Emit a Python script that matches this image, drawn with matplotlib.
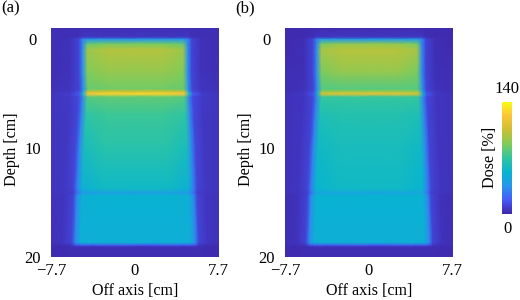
import numpy as np
import matplotlib
matplotlib.use('Agg')
import matplotlib.pyplot as plt
from matplotlib.colors import LinearSegmentedColormap

plt.rcParams['font.family'] = ['Liberation Serif', 'DejaVu Serif']

# dose table rows, depth in cm
depths = [-1.0, -0.15, 0.05, 0.5, 1.0, 3.0, 4.6, 4.8, 5.05, 5.35, 7.0, 10.0, 13.8, 14.1, 14.4, 18.7, 18.95, 19.1, 20.0]
# field edges at each depth, cm
left_edge = [-5.0, -5.0, -5.0, -5.0, -5.0, -5.0, -4.95, -4.95, -4.95, -5.0, -5.1, -5.3, -5.5, -5.5, -5.5, -5.65, -5.65, -5.65, -5.65]
right_edge = [5.1, 5.1, 5.1, 5.1, 5.1, 5.1, 5.15, 5.15, 5.2, 5.2, 5.3, 5.45, 5.6, 5.6, 5.6, 5.75, 5.75, 5.75, 5.75]
# dose columns: far, tail, outer, edge, inner, centre
dose_a = [
    [3, 3, 3, 3, 3, 3],
    [3, 3, 4, 6, 6, 6],
    [3, 4, 10, 30, 36, 36],
    [3, 4, 10, 30, 82, 86],
    [3, 4, 10, 32, 94, 99],
    [3, 4, 10, 32, 88, 92],
    [4, 5, 10, 32, 82, 84],
    [4, 6, 12, 38, 98, 102],
    [5, 8, 18, 60, 122, 127],
    [5, 7, 12, 30, 78, 80],
    [5, 6, 11, 30, 68, 72],
    [5, 6, 11, 30, 60, 66],
    [5, 6, 10, 28, 50, 56],
    [5, 6, 8, 22, 38, 40],
    [4, 5, 10, 32, 50, 51],
    [4, 5, 10, 32, 49, 49],
    [3, 3, 5, 14, 16, 16],
    [2, 2, 3, 3, 3, 3],
    [2, 2, 2, 2, 2, 2],
]
dose_b = [
    [2, 2, 2, 2, 2, 2],
    [2, 2, 3, 6, 6, 6],
    [2, 3, 10, 30, 38, 38],
    [2, 3, 10, 30, 86, 92],
    [2, 3, 10, 32, 96, 100],
    [3, 3, 10, 32, 86, 92],
    [3, 4, 10, 32, 78, 78],
    [3, 5, 11, 36, 88, 90],
    [4, 6, 16, 50, 110, 114],
    [4, 5, 11, 30, 70, 70],
    [4, 5, 10, 30, 62, 64],
    [4, 5, 10, 30, 56, 60],
    [4, 5, 10, 28, 52, 56],
    [4, 5, 8, 24, 44, 44],
    [3, 4, 10, 32, 51, 51],
    [3, 4, 10, 32, 49, 49],
    [3, 3, 5, 14, 16, 16],
    [2, 2, 3, 3, 3, 3],
    [2, 2, 2, 2, 2, 2],
]
panels = ['(a)', '(b)']
x_ticks = [-7.7, 0, 7.7]
x_tick_labels = ['\u22127.7', '0', '7.7']
y_ticks = [0, 10, 20]

parula = LinearSegmentedColormap.from_list('parula', [
    (0.2422, 0.1504, 0.6603), (0.2780, 0.3556, 0.9777), (0.1540, 0.5902, 0.9218),
    (0.0297, 0.7082, 0.8163), (0.1938, 0.7758, 0.6251), (0.5044, 0.7993, 0.3480),
    (0.8000, 0.7500, 0.2000), (0.9892, 0.7700, 0.2200), (0.9769, 0.9839, 0.0805)])


def draw_panel(ax, dose):
    dose = np.array(dose, dtype=float)
    d = np.array(depths)
    lft = np.array(left_edge)
    rgt = np.array(right_edge)
    far = np.full_like(d, 7.7)
    # columns run from the far side, over the left edge, to the right side
    x = np.column_stack([-far, lft - 1.0, lft - 0.15, lft + 0.2, lft + 0.65, lft + 2.5,
                         rgt - 2.5, rgt - 0.65, rgt - 0.2, rgt + 0.15, rgt + 1.0, far])
    y = np.tile(d[:, None], (1, 12))
    z = np.column_stack([dose[:, :6], dose[:, 5:0:-1], dose[:, 0]])
    im = ax.pcolormesh(x, y, z, shading='gouraud', cmap=parula, vmin=0, vmax=140)
    ax.set_xlim(-7.7, 7.7)
    ax.set_ylim(20, -1)
    ax.set_xticks(x_ticks, x_tick_labels)
    ax.set_yticks(y_ticks)
    ax.tick_params(axis='x', length=0, labelsize=12, pad=4)
    ax.tick_params(axis='y', length=0, labelsize=12, pad=13)
    for lab in ax.get_yticklabels():
        lab.set_ha('center')
    ax.set_xlabel('Off axis [cm]', fontsize=11.6, va='center')
    ax.xaxis.set_label_coords(0.5, -34 / 229)
    ax.set_ylabel('Depth [cm]', fontsize=11.6, va='center')
    ax.yaxis.set_label_coords(-39 / 167.5, 0.47)
    for s in ax.spines.values():
        s.set_visible(False)
    return im


fig = plt.figure(figsize=(5.2, 3), dpi=100)
W, H = 520, 300
ax_a = fig.add_axes([51 / W, 1 - 257 / H, 167.5 / W, 229 / H])
ax_b = fig.add_axes([285 / W, 1 - 257 / H, 167.5 / W, 229 / H])
draw_panel(ax_a, dose_a)
im = draw_panel(ax_b, dose_b)
fig.text(1 / W, 1 - 8 / H, panels[0], fontsize=12, va='center')
fig.text(235 / W, 1 - 8 / H, panels[1], fontsize=12, va='center')

cax = fig.add_axes([502.3 / W, 1 - 214 / H, 9.4 / W, 112.3 / H])
cb = fig.colorbar(im, cax=cax)
cb.set_ticks([])
cb.outline.set_visible(False)
fig.text(507 / W, 1 - 89 / H, '140', fontsize=12, ha='center', va='center')
fig.text(507 / W, 1 - 229 / H, '0', fontsize=12, ha='center', va='center')
fig.text(490 / W, 1 - 157 / H, 'Dose [%]', fontsize=11.6, rotation=90, ha='center', va='center')

fig.savefig('out.png', dpi=100)
